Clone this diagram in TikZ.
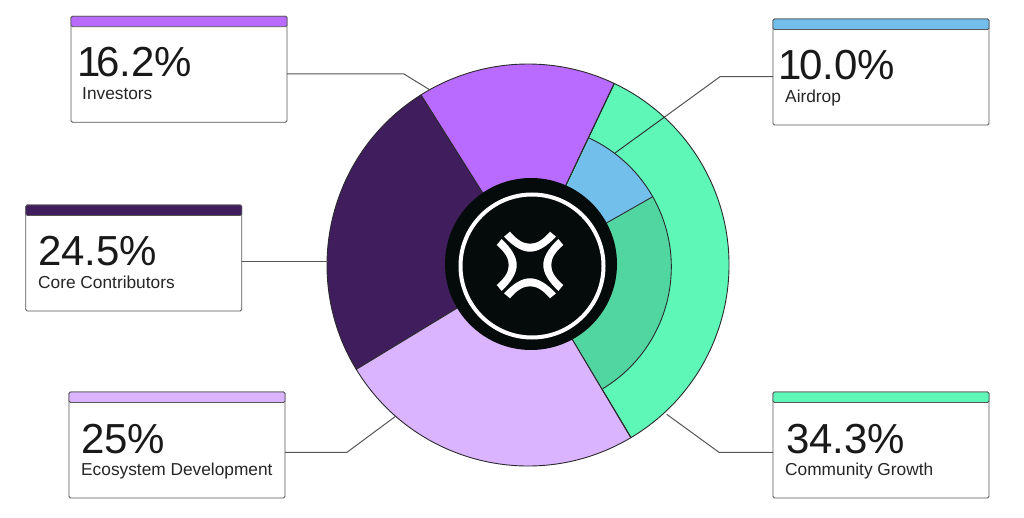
\documentclass[tikz,border=0pt]{standalone}
\usepackage{fontspec}
\setmainfont{Liberation Sans}
\usetikzlibrary{positioning}
\definecolor{investcolor}{HTML}{B96BFF}
\definecolor{corecolor}{HTML}{401D5C}
\definecolor{ecocolor}{HTML}{DBB4FF}
\definecolor{growthcolor}{HTML}{5EF7B7}
\definecolor{growthdark}{HTML}{52D6A1}
\definecolor{aircolor}{HTML}{72BFEB}
\definecolor{hubcolor}{HTML}{040B0A}
\definecolor{linecolor}{HTML}{2A2A2E}

\begin{document}
\begin{tikzpicture}[
    x=1pt, y=1pt,
    card/.style={draw=linecolor!80, line width=0.9pt, fill=white, minimum width=216pt, minimum height=106pt, inner sep=0pt, outer sep=0pt, rounded corners=1.5pt},
    cardbar/.style={draw=linecolor!80, line width=0.9pt, minimum width=216pt, minimum height=10.5pt, inner sep=0pt, outer sep=0pt, anchor=north, rounded corners=1.5pt},
    pct/.style={anchor=base west, inner sep=0pt, text=black!90, font=\fontsize{42}{42}\selectfont},
    captext/.style={anchor=base west, inner sep=0pt, text=black!85, font=\fontsize{17.3}{19}\selectfont},
    wedge/.style={draw=linecolor, line width=0.9pt, line join=round},
    leader/.style={draw=linecolor!80, line width=1pt}
]
    \useasboundingbox (0,0) rectangle (1024,517);

    % Pie
    \coordinate (pie) at (528,252);
    \coordinate (innerpie) at (529,250);
    \draw[wedge, fill=growthcolor] (pie) -- +(-59.2:201) arc (-59.2:64.6:201) -- cycle;
    \draw[wedge, fill=investcolor] (pie) -- +(64.6:201) arc (64.6:122.2:201) -- cycle;
    \draw[wedge, fill=corecolor] (pie) -- +(122.2:201) arc (122.2:211.3:201) -- cycle;
    \draw[wedge, fill=ecocolor] (pie) -- +(211.3:201) arc (211.3:300.8:201) -- cycle;
    \fill[growthdark] (innerpie) -- +(-58.9:142.3) arc (-58.9:29.6:142.3) -- cycle;
    \fill[aircolor] (innerpie) -- +(29.6:142.3) arc (29.6:64.9:142.3) -- cycle;
    \draw[wedge] (innerpie) ++(-58.9:142.3) arc (-58.9:64.9:142.3);
    \draw[wedge] (innerpie) -- +(29.6:142.3);
    \draw[wedge] (pie) -- +(64.6:201);
    \draw[wedge] (pie) -- +(-59.2:201);

    % Hub
    \node[circle, fill=hubcolor, minimum size=172pt, inner sep=0pt] (hub) at (531,253) {};
    \node[circle, draw=white, line width=4pt, minimum size=143pt, inner sep=0pt, outer sep=0pt] (ring) at (532,251) {};
    \foreach \ang in {0,90,180,270}
        \fill[white, shift={(530,252)}, rotate=\ang] (-20,33.3) .. controls (-12,24) and (-6,21.3) .. (0,21.3)
            .. controls (6,21.3) and (12,24) .. (20,33.3) -- (26,28.3)
            .. controls (16,18) and (8,13.3) .. (0,13.3)
            .. controls (-8,13.3) and (-16,18) .. (-26,28.3) -- cycle;

    % Cards
    \node[card] (investors) at (179,447.75) {};
    \node[card] (core) at (133.75,259) {};
    \node[card] (ecosystem) at (177,72) {};
    \node[card] (airdrop) at (881,445) {};
    \node[card] (community) at (881,72) {};

    \node[cardbar, fill=investcolor] (investorsbar) at (investors.north) {};
    \node[cardbar, fill=corecolor] (corebar) at (core.north) {};
    \node[cardbar, fill=ecocolor] (ecosystembar) at (ecosystem.north) {};
    \node[cardbar, fill=aircolor] (airdropbar) at (airdrop.north) {};
    \node[cardbar, fill=growthcolor] (communitybar) at (community.north) {};

    % Card texts
    \node[pct] (investorspct) at (77.5,440) {1\kern-5pt 6.2\%};
    \node[captext] (investorscap) at (82,417) {Investors};
    \node[pct] (corepct) at (38,251.3) {24.5\%};
    \node[captext] (corecap) at (38,228.7) {Core Contributors};
    \node[pct] (ecosystempct) at (81,64) {25\%};
    \node[captext] (ecosystemcap) at (81,41.5) {Ecosystem Development};
    \node[pct] (airdroppct) at (778.5,437) {1\kern-3pt 0.0\%};
    \node[captext] (airdropcap) at (785,414.5) {Airdrop};
    \node[pct] (communitypct) at (786,64) {34.3\%};
    \node[captext] (communitycap) at (785,41.5) {Community Growth};

    % Leaders
    \coordinate (investorsbend) at (404,443);
    \coordinate (investorsend) at (430,427);
    \coordinate (coreend) at (327.5,255.3);
    \coordinate (ecosystembend) at (347,64.7);
    \coordinate (ecosystemend) at (395,100.3);
    \coordinate (airdropbend) at (720,440.3);
    \coordinate (airdroprim) at (665,400.3);
    \coordinate (airdropend) at (615,364);
    \coordinate (communitybend) at (719,64.7);
    \coordinate (communityend) at (666.7,102.7);

    \draw[leader] (investors.east |- investorsbend) -- (investorsbend) -- (investorsend);
    \draw[leader] (core.east |- coreend) -- (coreend);
    \draw[leader] (ecosystem.east |- ecosystembend) -- (ecosystembend) -- (ecosystemend);
    \draw[leader] (airdrop.west |- airdropbend) -- (airdropbend) -- (airdroprim);
    \draw[wedge] (airdroprim) -- (airdropend);
    \draw[leader] (community.west |- communitybend) -- (communitybend) -- (communityend);
\end{tikzpicture}
\end{document}
